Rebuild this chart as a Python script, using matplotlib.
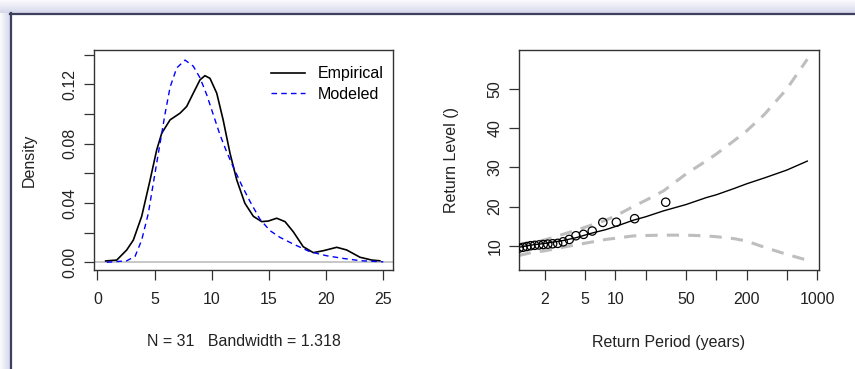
import matplotlib
matplotlib.use('Agg')
import matplotlib.pyplot as plt
from matplotlib.patches import Rectangle
from matplotlib.lines import Line2D
import numpy as np

plt.rcParams['font.family'] = ['Liberation Sans', 'DejaVu Sans']
plt.rcParams['font.size'] = 11.5

# left panel: density curves
emp_x = [0.73, 1.7, 2.57, 3.15, 3.88, 4.6, 5.19, 5.63, 6.36, 7.23, 7.81, 8.39, 8.98, 9.41,
         9.85, 10.44, 11.0, 11.6, 12.19, 12.9, 13.64, 14.37, 14.95, 15.68, 16.41, 17.13,
         18.0, 18.88, 19.76, 20.93, 21.8, 22.96, 23.99, 24.7]
emp_y = [0.0009, 0.0015, 0.0083, 0.015, 0.031, 0.055, 0.0757, 0.087, 0.096, 0.1005, 0.105,
         0.114, 0.123, 0.1258, 0.124, 0.114, 0.096, 0.0735, 0.0555, 0.0398, 0.031, 0.0274,
         0.0278, 0.0297, 0.0274, 0.0206, 0.0105, 0.0065, 0.0078, 0.0101, 0.0083, 0.0034,
         0.0015, 0.001]

mod_x = [0.82, 2.57, 3.3, 3.88, 4.46, 5.04, 5.48, 5.92, 6.36, 6.94, 7.67, 8.39, 8.98, 9.56,
         10.14, 10.72, 11.31, 11.9, 12.62, 13.35, 14.22, 15.1, 15.97, 17.13, 18.59, 20.05,
         21.5, 22.96, 25.0]
mod_y = [0.0, 0.001, 0.004, 0.015, 0.033, 0.060, 0.080, 0.100, 0.118, 0.131, 0.1363, 0.1322,
         0.1243, 0.113, 0.0995, 0.086, 0.0744, 0.064, 0.052, 0.041, 0.029, 0.0213, 0.0168,
         0.0123, 0.0071, 0.0044, 0.0026, 0.0011, 0.0003]

# right panel: return level curve with confidence band
rl_period = [1.1, 1.5, 2, 3, 4, 6, 8, 10, 15, 20, 30, 50, 80, 100, 150, 200, 300, 500, 800]
rl_level = [9.6, 10.2, 10.6, 11.3, 12.0, 13.3, 14.1, 14.9, 16.5, 17.4, 18.9, 20.5, 22.3,
            23.0, 24.6, 25.8, 27.3, 29.3, 31.6]
ci_upper = [10.0, 10.7, 11.5, 12.9, 13.9, 15.4, 16.5, 17.6, 20.0, 21.6, 24.0, 28.3, 31.7,
            33.4, 36.8, 39.3, 43.5, 50.0, 57.6]
ci_lower = [7.5, 8.3, 8.7, 9.6, 10.2, 11.0, 11.6, 11.9, 12.5, 12.6, 12.7, 12.7, 12.5,
            12.3, 11.8, 11.2, 9.6, 7.8, 6.3]

obs_period = [1.11, 1.21, 1.32, 1.44, 1.58, 1.74, 1.92, 2.13, 2.38, 2.67, 3.03, 3.48, 4.05,
              4.82, 5.88, 7.49, 10.2, 15.5, 31.5]
obs_level = [9.4, 9.6, 9.8, 10.0, 10.1, 10.2, 10.3, 10.4, 10.5, 10.6, 11.0, 11.6, 12.55,
             12.9, 13.75, 15.95, 16.0, 16.9, 21.1]

W, H = 855, 369
fig = plt.figure(figsize=(W / 100, H / 100), dpi=100)
fig.patch.set_facecolor('white')

# window frame (shadow + dark edge) on left and top
for i in range(10):
    a = 0.08 + 0.05 * i
    fig.patches.append(Rectangle((i / W, 0), 1 / W, 1 - 13 / H, transform=fig.transFigure,
                                 color=(0.70, 0.72, 0.86), alpha=a, lw=0))
for i in range(13):
    a = 0.06 + 0.04 * i
    fig.patches.append(Rectangle((0, 1 - (i + 1) / H), 1, 1 / H, transform=fig.transFigure,
                                 color=(0.70, 0.72, 0.86), alpha=a, lw=0))
fig.add_artist(Line2D([10.5 / W, 10.5 / W], [0, 1 - 13 / H], transform=fig.transFigure,
                      color='#3d405c', lw=1.6))
fig.add_artist(Line2D([10 / W, 1], [1 - 13.5 / H, 1 - 13.5 / H], transform=fig.transFigure,
                      color='#3d405c', lw=1.6))


def px_axes(x0, y0, x1, y1):
    return fig.add_axes([x0 / W, 1 - y1 / H, (x1 - x0) / W, (y1 - y0) / H])


def r_style(ax):
    for s in ax.spines.values():
        s.set_color('#333333')
        s.set_linewidth(1.0)
    ax.tick_params(direction='out', length=7, width=0.9, color='#333333',
                   labelsize=11.5, labelcolor='#222222')
    ax.tick_params(axis='x', pad=9)
    ax.tick_params(axis='y', pad=5)
    for lab in ax.get_yticklabels():
        lab.set_rotation(90)
        lab.set_va('center')


ax1 = px_axes(94, 50, 393, 270)
ax1.axhline(0, color='#bebebe', lw=1.2)
ax1.plot(emp_x, emp_y, color='black', lw=1.2, label='Empirical')
ax1.plot(mod_x, mod_y, color='blue', lw=1.0, ls=(0, (4, 3)), label='Modeled')
ax1.set_xlim(-0.29, 25.85)
ax1.set_ylim(-0.0052, 0.1431)
ax1.set_xticks([0, 5, 10, 15, 20, 25])
ax1.set_yticks(np.arange(0, 0.15, 0.02))
ax1.set_yticklabels(['0.00', '', '0.04', '', '0.08', '', '0.12', ''])
r_style(ax1)
ax1.legend(loc='upper right', frameon=False, fontsize=11.5, handlelength=2.1,
           handletextpad=0.8, labelspacing=0.35, borderaxespad=0.2,
           bbox_to_anchor=(1.0, 0.97))
fig.text(244 / W, 1 - 342 / H, 'N = 31   Bandwidth = 1.318', ha='center', va='center',
         fontsize=11.5, color='#222222')
fig.text(29 / W, 1 - 160 / H, 'Density', ha='center', va='center', rotation=90,
         fontsize=11.5, color='#222222')

ax2 = px_axes(519, 50, 819, 270)
ax2.plot(rl_period, ci_upper, color='#bebebe', lw=2.2, ls=(0, (4, 3)))
ax2.plot(rl_period, ci_lower, color='#bebebe', lw=2.2, ls=(0, (4, 3)))
ax2.plot(rl_period, rl_level, color='black', lw=1.0)
ax2.scatter(obs_period, obs_level, s=36, facecolors='none', edgecolors='black',
            linewidths=0.9, marker='o', zorder=3)
ax2.set_xscale('log')
ax2.set_xlim(1.104, 1045)
ax2.set_ylim(3.8, 59.96)
ax2.set_xticks([2, 5, 10, 20, 50, 100, 200, 500, 1000])
ax2.set_xticklabels(['2', '5', '10', '', '50', '', '200', '', '1000'])
ax2.xaxis.set_minor_locator(matplotlib.ticker.NullLocator())
ax2.set_yticks([10, 20, 30, 40, 50])
r_style(ax2)
fig.text(669 / W, 1 - 342 / H, 'Return Period (years)', ha='center', va='center',
         fontsize=11.5, color='#222222')
fig.text(451 / W, 1 - 160 / H, 'Return Level ()', ha='center', va='center', rotation=90,
         fontsize=11.5, color='#222222')

fig.savefig('out.png', dpi=100)
